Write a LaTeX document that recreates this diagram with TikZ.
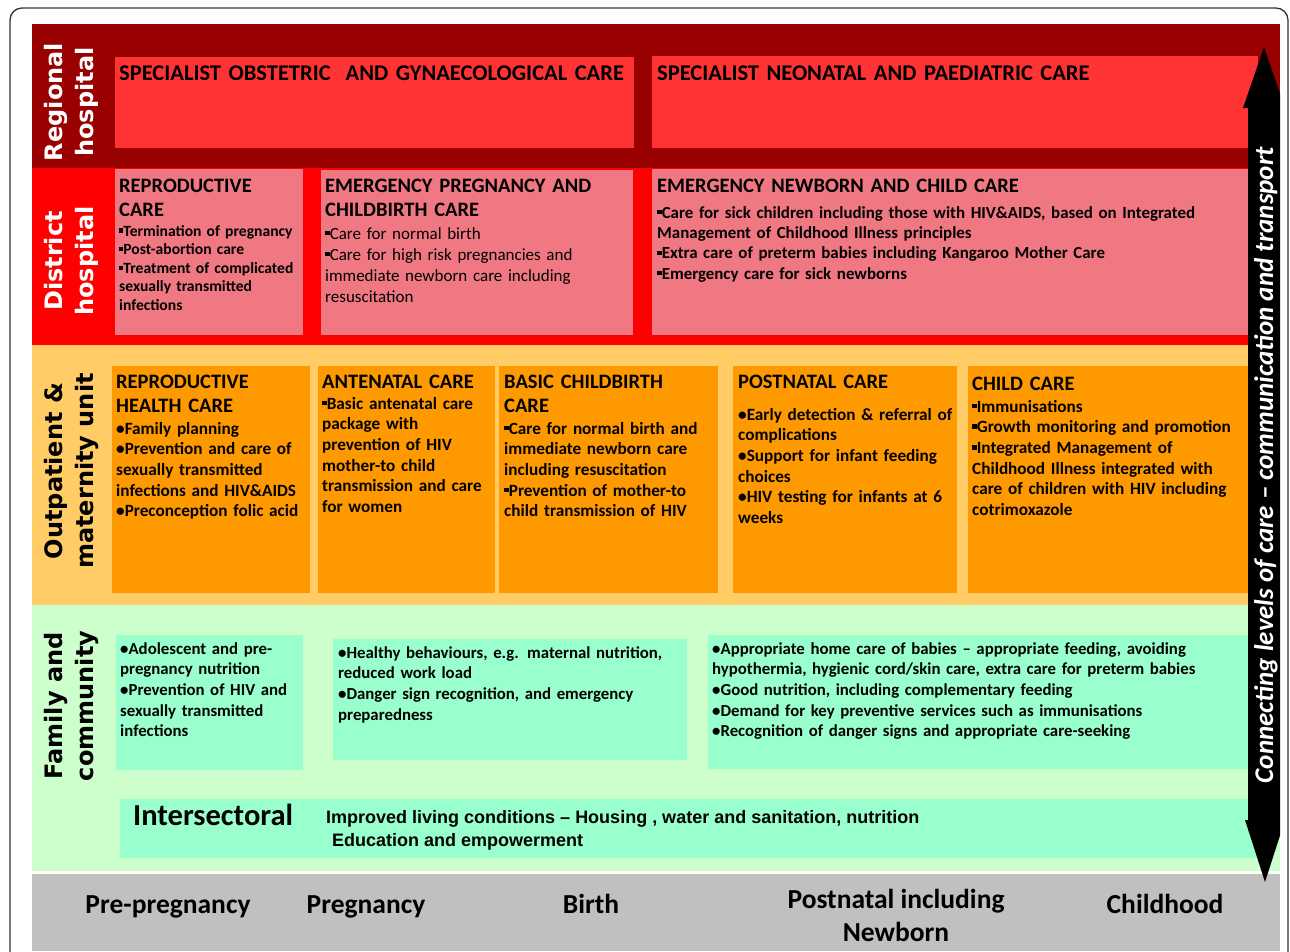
\documentclass[tikz,border=0pt]{standalone}
\usepackage{fontspec}
\setmainfont{Carlito}
\newfontfamily\vfont{DejaVu Sans}
\newfontfamily\afont{Liberation Sans}
\newcommand\sqb{\raisebox{0.22em}{\rule{0.27em}{0.27em}}}
\definecolor{darkred}{HTML}{990000}
\definecolor{brightred}{HTML}{FF3333}
\definecolor{distred}{HTML}{FF0000}
\definecolor{pinkbox}{HTML}{F07882}
\definecolor{lightorange}{HTML}{FFCC66}
\definecolor{orangebox}{HTML}{FF9900}
\definecolor{lightgreen}{HTML}{CCFFCC}
\definecolor{mintbox}{HTML}{99FFCC}
\definecolor{bandgray}{HTML}{C0C0C0}
\definecolor{framegray}{HTML}{333333}
\begin{document}
\begin{tikzpicture}[x=1pt,y=-1pt,
  hd/.style={anchor=base west, inner sep=0, align=left, text width=620pt,
    font=\bfseries\fontsize{20.5}{24.5}\selectfont},
  bodytext/.style={anchor=base west, inner sep=0, align=left, text width=620pt},
  rowlabel/.style={rotate=90, anchor=center, inner sep=0, align=center,
    font=\vfont\bfseries\fontsize{24}{31}\selectfont},
  stage/.style={anchor=base, inner sep=0, align=center,
    font=\bfseries\fontsize{27.5}{33}\selectfont}]
\useasboundingbox (0,0) rectangle (1290,951);
\fill[white] (0,0) rectangle (1290,951);
% outer frame
\draw[framegray, line width=1.3pt, rounded corners=12pt] (10,8) rectangle (1288,990);

% bands
\fill[darkred] (32,24) rectangle (1280,168);
\fill[distred] (32,168) rectangle (1280,345);
\fill[lightorange] (32,345) rectangle (1280,605);
\fill[lightgreen] (32,605) rectangle (1280,871);
\fill[bandgray] (32,874) rectangle (1280,951);

% regional boxes
\fill[brightred] (115,57) rectangle (634,148);
\fill[brightred] (652,56) rectangle (1258,148);
% district boxes
\fill[pinkbox] (115,169) rectangle (303,335);
\fill[pinkbox] (321,170) rectangle (633,335);
\fill[pinkbox] (652,169) rectangle (1258,335);
% outpatient boxes
\fill[orangebox] (112,366) rectangle (310,593);
\fill[orangebox] (318,366) rectangle (495,593);
\fill[orangebox] (499,366) rectangle (718,593);
\fill[orangebox] (733,366) rectangle (957,593);
\fill[orangebox] (968,366) rectangle (1258,593);
% family boxes
\fill[mintbox] (116,635) rectangle (303,770);
\fill[mintbox] (333,639) rectangle (687,760);
\fill[mintbox] (708,635) rectangle (1258,769);
\fill[mintbox] (120,799) rectangle (1258,858);

% row labels
\node[rowlabel, white] (lregional) at (71,102) {Regional\\hospital};
\node[rowlabel, white] (ldistrict) at (71,261) {District\\hospital};
\node[rowlabel] (loutpatient) at (71,471) {Outpatient \&\\maternity unit};
\node[rowlabel] (lfamily) at (71,706) {Family and\\community};

% regional
\node[hd, font=\bfseries\fontsize{22.5}{26}\selectfont] (r1) at (119,80) {SPECIALIST OBSTETRIC\ \ AND GYNAECOLOGICAL CARE};
\node[hd, font=\bfseries\fontsize{22.5}{26}\selectfont] (r2) at (657,80) {SPECIALIST NEONATAL AND PAEDIATRIC CARE};

% district
\node[hd] (d1h) at (119,192) {REPRODUCTIVE\\CARE};
\node[bodytext, font=\bfseries\fontsize{15.6}{18.6}\selectfont] (d1b) at (119,236)
  {\sqb Termination of pregnancy\\\sqb Post-abortion care\\\sqb Treatment of complicated\\sexually transmitted\\infections};
\node[hd] (d2h) at (325,192) {EMERGENCY PREGNANCY AND\\CHILDBIRTH CARE};
\node[bodytext, font=\fontsize{17}{21}\selectfont] (d2b) at (325,239)
  {\sqb Care for normal birth\\\sqb Care for high risk pregnancies and\\immediate newborn care including\\resuscitation};
\node[hd] (d3h) at (657,192) {EMERGENCY NEWBORN AND CHILD CARE};
\node[bodytext, font=\bfseries\fontsize{16.9}{20.4}\selectfont] (d3b) at (657,218)
  {\sqb Care for sick children including those with HIV\&AIDS, based on Integrated\\Management of Childhood Illness principles\\\sqb Extra care of preterm babies including Kangaroo Mother Care\\\sqb Emergency care for sick newborns};

% outpatient
\tikzset{obody/.style={bodytext, font=\bfseries\fontsize{17.2}{20.7}\selectfont}}
\node[hd] (o1h) at (116,388) {REPRODUCTIVE\\HEALTH CARE};
\node[obody] (o1b) at (116,434)
  {\textbullet Family planning\\\textbullet Prevention and care of\\sexually transmitted\\infections and HIV\&AIDS\\\textbullet Preconception folic acid};
\node[hd] (o2h) at (322,388) {ANTENATAL CARE};
\node[obody] (o2b) at (322,409)
  {\sqb Basic antenatal care\\package with\\prevention of HIV\\mother-to child\\transmission and care\\for women};
\node[hd] (o3h) at (504,388) {BASIC CHILDBIRTH\\CARE};
\node[obody] (o3b) at (504,434)
  {\sqb Care for normal birth and\\immediate newborn care\\including resuscitation\\\sqb Prevention of mother-to\\child transmission of HIV};
\node[hd] (o4h) at (738,388) {POSTNATAL CARE};
\node[obody] (o4b) at (738,420)
  {\textbullet Early detection \& referral of\\complications\\\textbullet Support for infant feeding\\choices\\\textbullet HIV testing for infants at 6\\weeks};
\node[hd] (o5h) at (972,390) {CHILD CARE};
\node[obody] (o5b) at (972,412)
  {\sqb Immunisations\\\sqb Growth monitoring and promotion\\\sqb Integrated Management of\\Childhood Illness integrated with\\care of children with HIV including\\cotrimoxazole};

% family
\tikzset{fbody/.style={bodytext, font=\bfseries\fontsize{16.8}{20.7}\selectfont}}
\node[fbody] (f1) at (120,654)
  {\textbullet Adolescent and pre-\\pregnancy nutrition\\\textbullet Prevention of HIV and\\sexually transmitted\\infections};
\node[fbody] (f2) at (338,658)
  {\textbullet Healthy behaviours, e.g. maternal nutrition,\\reduced work load\\\textbullet Danger sign recognition, and emergency\\preparedness};
\node[fbody] (f3) at (712,654)
  {\textbullet Appropriate home care of babies – appropriate feeding, avoiding\\hypothermia, hygienic cord/skin care, extra care for preterm babies\\\textbullet Good nutrition, including complementary feeding\\\textbullet Demand for key preventive services such as immunisations\\\textbullet Recognition of danger signs and appropriate care-seeking};

% intersectoral
\node[anchor=base west, inner sep=0, font=\bfseries\fontsize{30.5}{34}\selectfont] (inter) at (133,825) {Intersectoral};
\node[anchor=base west, inner sep=0, font=\afont\bfseries\fontsize{18}{23}\selectfont] (inter1) at (326,823)
  {Improved living conditions – Housing , water and sanitation, nutrition};
\node[anchor=base west, inner sep=0, font=\afont\bfseries\fontsize{18}{23}\selectfont] (inter2) at (332,846)
  {Education and empowerment};

% stages
\node[stage] (s1) at (168,913) {Pre-pregnancy};
\node[stage] (s2) at (366,913) {Pregnancy};
\node[stage] (s3) at (591,913) {Birth};
\node[stage] (s4) at (896,941) {Postnatal including\\Newborn};
\node[stage] (s5) at (1165,913) {Childhood};

% double arrow
\begin{scope}
\clip (0,0) rectangle (1280,951);
\fill[black] (1248,108) -- (1243,108) -- (1264,47) -- (1285,108) -- (1280,108)
  -- (1280,820) -- (1285,820) -- (1265,882) -- (1245,820) -- (1248,820) -- cycle;
\end{scope}
\node[rotate=90, anchor=center, inner sep=0, text=white,
  font=\bfseries\itshape\fontsize{27}{30}\selectfont] (arrowtxt) at (1266,465)
  {Connecting levels of care – communication and transport};
\end{tikzpicture}
\end{document}
